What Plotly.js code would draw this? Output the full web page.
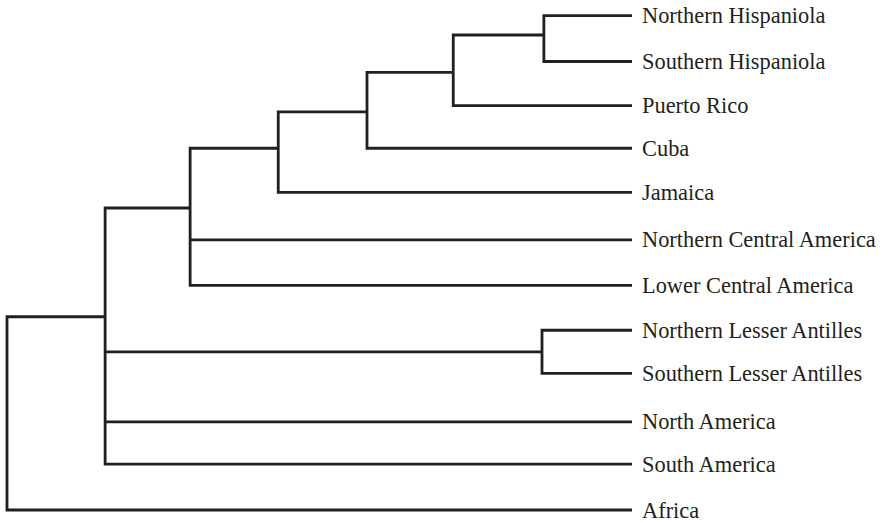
<!DOCTYPE html>
<html>
<head>
<meta charset="utf-8">
<script src="https://cdn.plot.ly/plotly-3.0.1.min.js"></script>
<style>html,body{margin:0;padding:0;background:#fff;}#chart{width:885px;height:523px;}</style>
</head>
<body>
<div id="chart"></div>
<script>
// Leaves (top to bottom) and their row positions
var leafNames = ['Northern Hispaniola','Southern Hispaniola','Puerto Rico','Cuba','Jamaica',
  'Northern Central America','Lower Central America','Northern Lesser Antilles',
  'Southern Lesser Antilles','North America','South America','Africa'];
var leafRow = [0, 1.02, 2.0, 2.95, 3.93, 4.99, 6.0, 7.0, 7.96, 9.04, 9.98, 11];
var leafDepth = 10;

// Internal nodes: depth (branch position), row of their stem, children
var nodeNames = ['N_Hisp','N_HispPR','N_HispPRCuba','N_GreaterAntilles','N_GACA','N_Lesser','N_Neo','N_Root'];
var nodeDepth = [8.59, 7.14, 5.76, 4.34, 2.93, 8.56, 1.57, 0];
var nodeRow   = [0.43, 1.26, 2.14, 2.95, 4.28, 7.48, 6.70, 8.85];
var nodeChildren = [
  ['Northern Hispaniola','Southern Hispaniola'],
  ['N_Hisp','Puerto Rico'],
  ['N_HispPR','Cuba'],
  ['N_HispPRCuba','Jamaica'],
  ['N_GreaterAntilles','Northern Central America','Lower Central America'],
  ['Northern Lesser Antilles','Southern Lesser Antilles'],
  ['N_GACA','N_Lesser','North America','South America'],
  ['N_Neo','Africa']
];

function pos(name){
  var i = leafNames.indexOf(name);
  if (i >= 0) return {d: leafDepth, r: leafRow[i]};
  var j = nodeNames.indexOf(name);
  return {d: nodeDepth[j], r: nodeRow[j]};
}

var xs = [], ys = [];
nodeNames.forEach(function(n, k){
  var ch = nodeChildren[k].map(pos);
  var first = ch[0], last = ch[ch.length-1];
  var d = nodeDepth[k];
  xs.push(first.d, d, d, last.d, null);
  ys.push(first.r, first.r, last.r, last.r, null);
  for (var m = 1; m < ch.length-1; m++){
    xs.push(d, ch[m].d, null);
    ys.push(ch[m].r, ch[m].r, null);
  }
});

var traces = [{
  x: xs, y: ys, mode: 'lines', type: 'scatter',
  line: {color: '#231f20', width: 2.8},
  hoverinfo: 'skip', showlegend: false, connectgaps: false
}];

var annotations = leafNames.map(function(n, i){
  return {x: leafDepth, y: leafRow[i], xref: 'x', yref: 'y', text: n,
    showarrow: false, xanchor: 'left', yanchor: 'middle', xshift: 8, yshift: 0,
    font: {family: 'Liberation Serif, Times New Roman, serif', size: 22.4, color: '#231f20'}};
});

var layout = {
  width: 885, height: 523,
  margin: {l: 0, r: 0, t: 0, b: 0},
  paper_bgcolor: '#ffffff', plot_bgcolor: '#ffffff',
  xaxis: {range: [-0.112, 14.048], visible: false, fixedrange: true},
  yaxis: {range: [11.289, -0.349], visible: false, fixedrange: true},
  annotations: annotations,
  showlegend: false
};

Plotly.newPlot('chart', traces, layout, {displayModeBar: false, staticPlot: true});
</script>
</body>
</html>
